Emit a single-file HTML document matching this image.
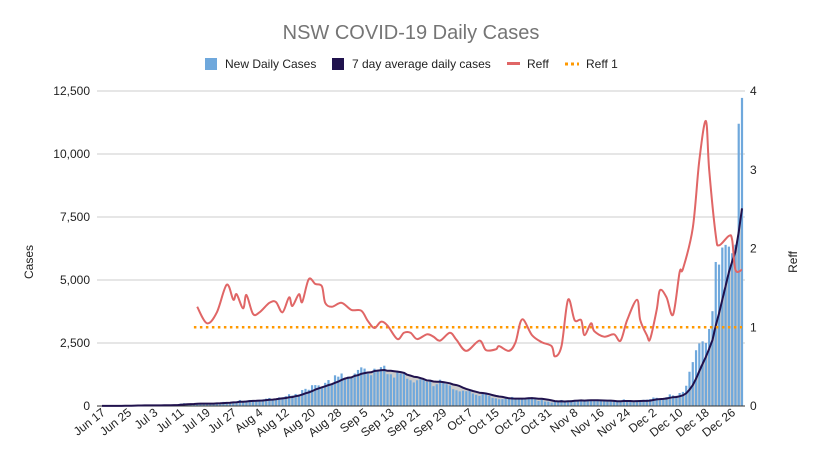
<!DOCTYPE html>
<html><head><meta charset="utf-8"><style>
body{margin:0;background:#fff;font-family:"Liberation Sans",Arial,sans-serif}
svg text{font-family:"Liberation Sans",Arial,sans-serif}
</style></head><body>
<svg id="chart" width="820" height="450" viewBox="0 0 820 450" xmlns="http://www.w3.org/2000/svg">
<rect width="820" height="450" fill="#fff"/>
<text x="411" y="39" text-anchor="middle" font-size="20" fill="#757575">NSW COVID-19 Daily Cases</text>
<g font-size="12" fill="#222">
 <g><rect x="205" y="58" width="12" height="12" fill="#6fa8dc"/><text x="225" y="68">New Daily Cases</text></g>
 <g><rect x="332" y="58" width="12" height="12" fill="#20124d"/><text x="352" y="68">7 day average daily cases</text></g>
 <g><rect x="507" y="62" width="13" height="3" fill="#e06666"/><text x="527" y="68">Reff</text></g>
 <g><line x1="565" y1="64" x2="579" y2="64" stroke="#ff9900" stroke-width="3" stroke-dasharray="3,3"/><text x="586" y="68">Reff 1</text></g>
</g>
<text transform="translate(33,262) rotate(-90)" text-anchor="middle" font-size="12" fill="#222">Cases</text>
<text transform="translate(797,262) rotate(-90)" text-anchor="middle" font-size="12" fill="#222">Reff</text>
<g id="grid"></g><g id="area"></g><g id="bars"></g><g id="lines"></g><g id="labels"></g>
</svg>
<script>
const dateLabels=["Jun 17","Jun 25","Jul 3","Jul 11","Jul 19","Jul 27","Aug 4","Aug 12","Aug 20","Aug 28","Sep 5","Sep 13","Sep 21","Sep 29","Oct 7","Oct 15","Oct 23","Oct 31","Nov 8","Nov 16","Nov 24","Dec 2","Dec 10","Dec 18","Dec 26"];
const leftTicks=[0,2500,5000,7500,10000,12500];
const rightTicks=[0,1,2,3,4];
const dailyCases=[3,4,2,3,6,9,11,16,22,29,30,18,19,22,
24,31,35,16,27,35,44,38,45,44,97,112,89,99,65,97,111,105,98,78,110,124,136,163,141,145,172,177,239,170,210,
239,207,199,233,262,291,319,262,283,345,344,390,466,415,478,452,633,681,644,825,830,818,753,919,1029,882,1218,1164,1290,1116,1164,
1116,1288,1431,1533,1485,1281,1220,1480,1405,1542,1599,1262,1257,1127,1351,1284,1331,1083,1022,935,1022,1063,1035,961,1007,787,863,1043,941,864,
813,667,623,580,608,587,594,496,444,399,473,477,406,319,301,265,273,295,282,360,268,304,282,294,345,346,268,199,253,177,173,
135,163,181,239,185,216,227,235,220,232,180,236,248,250,222,199,182,172,215,177,173,216,261,177,179,150,208,200,246,251,
271,337,325,276,264,353,461,420,403,516,560,804,1360,1742,2213,2482,2566,2501,3057,3763,5715,5612,6288,6394,6324,6062,6400,11201,12226];
const reffDay=[29,32,35,38,40,41,43,44,46,48,51,53,55,57,58,60,61,63,65,67,68,70,73,76,79,81,83,85,87,90,92,94,96,99,101,103,106,108,111,115,117,120,121,124,126,128,131,134,137,138,140,142,144,146,147,149,150,153,156,158,160,163,164,166,167,169,170,172,174,176,177,180,182,184,185,187,188,191,192,193,195];
const reffValue=[1.26,1.05,1.19,1.54,1.35,1.42,1.24,1.41,1.17,1.19,1.31,1.32,1.19,1.38,1.27,1.42,1.32,1.61,1.55,1.52,1.31,1.26,1.31,1.22,1.21,1.08,0.99,1.07,1.02,0.85,0.93,0.93,0.85,0.91,0.88,0.83,0.93,0.84,0.70,0.83,0.71,0.72,0.76,0.70,0.81,1.10,0.90,0.81,0.76,0.63,0.76,1.35,1.09,1.09,0.90,1.05,0.95,0.88,0.91,0.83,1.09,1.35,1.09,0.90,0.85,1.22,1.47,1.38,1.16,1.70,1.74,2.26,3.12,3.62,3.00,2.17,2.04,2.16,2.11,1.73,1.73];
const reffOneStart=28, reffOneEnd=195, reffOne=1;

const NS="http://www.w3.org/2000/svg";
const x0=102, dx=(742-102)/195, yBase=406, yTop=91;
const xs=i=>x0+i*dx;
const yL=v=>yBase-(v/12500)*(yBase-yTop);
const yR=v=>yBase-(v/4)*(yBase-yTop);
function mk(tag,attrs,parent){const e=document.createElementNS(NS,tag);for(const k in attrs)e.setAttribute(k,attrs[k]);document.getElementById(parent).appendChild(e);return e;}

leftTicks.forEach((t,k)=>{
 if(t>0){const g=mk('line',{x1:97,x2:745,y1:yL(t),y2:yL(t),stroke:'#ccc','stroke-width':1},'grid');
 
 }
 const tx=mk('text',{x:90,y:yL(t)+4,'text-anchor':'end','font-size':12,fill:'#222'},'labels');tx.textContent=t.toLocaleString('en-US');
 
 
});
rightTicks.forEach(t=>{
 const tx=mk('text',{x:750,y:yR(t)+4,'font-size':12,fill:'#222'},'labels');tx.textContent=t;
 
 
});
dateLabels.forEach((d,k)=>{
 const x=xs(k*8)+4;
 const tx=mk('text',{transform:`translate(${x},414) rotate(-38)`,'text-anchor':'end','font-size':12,fill:'#222'},'labels');tx.textContent=d;
 
 
});
// 7-day average
const avg=dailyCases.map((v,i)=>{const s=dailyCases.slice(Math.max(0,i-6),i+1);return s.reduce((a,b)=>a+b,0)/s.length;});
let pts=avg.map((v,i)=>`${xs(i).toFixed(1)},${yL(v).toFixed(1)}`);
const ar=mk('path',{d:`M${xs(0)},${yBase} L${pts.join(' L')} L${xs(195)},${yBase} Z`,fill:'#cccccc'},'area');


dailyCases.forEach((v,i)=>{
 const b=mk('rect',{x:xs(i)-1.1,y:yL(v),width:2.2,height:yBase-yL(v),fill:'#6fa8dc'},'bars');
 
 
});
const base=mk('line',{x1:97,x2:745,y1:yBase,y2:yBase,stroke:'#333','stroke-width':1},'lines');


const al=mk('polyline',{points:pts.join(' '),fill:'none',stroke:'#20124d','stroke-width':2,'stroke-linejoin':'round'},'lines');


const r1=mk('line',{x1:xs(reffOneStart),x2:xs(reffOneEnd),y1:yR(reffOne),y2:yR(reffOne),stroke:'#ff9900','stroke-width':2.5,'stroke-dasharray':'2.5,3.5'},'lines');


// smooth reff
const P=reffDay.map((d,k)=>[xs(d),yR(reffValue[k])]);
let d=`M${P[0][0]},${P[0][1]}`;
for(let k=0;k<P.length-1;k++){const p0=P[Math.max(0,k-1)],p1=P[k],p2=P[k+1],p3=P[Math.min(P.length-1,k+2)];
 d+=` C${p1[0]+(p2[0]-p0[0])/6},${p1[1]+(p2[1]-p0[1])/6} ${p2[0]-(p3[0]-p1[0])/6},${p2[1]-(p3[1]-p1[1])/6} ${p2[0]},${p2[1]}`;}
const rl=mk('path',{d:d,fill:'none',stroke:'#e06666','stroke-width':2,'stroke-linejoin':'round'},'lines');


</script>
</body></html>
